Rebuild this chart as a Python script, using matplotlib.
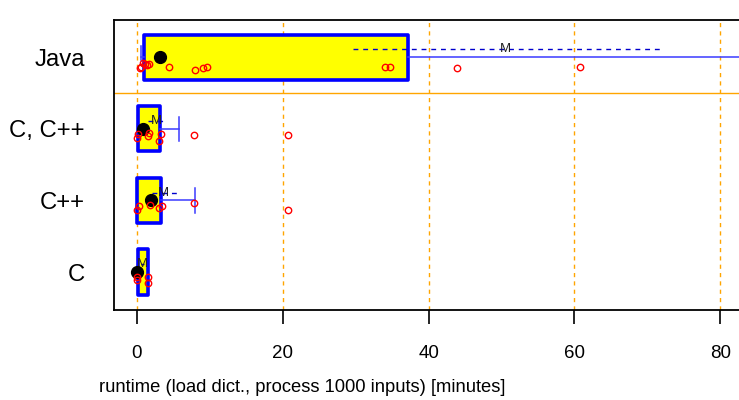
import matplotlib
matplotlib.use("Agg")
import matplotlib.pyplot as plt

plt.rcParams['font.family'] = ['Liberation Sans', 'DejaVu Sans']

# ---- data ----
groups = ["C", "C++", "C, C++", "Java"]          # bottom to top
box_lo = [0.15, 0.05, 0.07, 1.0]
box_hi = [1.55, 3.35, 3.2, 37.2]
medians = [0.0, 1.9, 0.85, 3.2]
whisk_lo = [0.15, 0.05, 0.07, 0.5]
whisk_hi = [1.55, 8.0, 5.8, 95.0]
means = [0.7, 3.6, 2.7, 50.6]
mean_lo = [0.5, 2.0, 1.5, 29.6]
mean_hi = [0.9, 5.5, 4.1, 72.0]

c_pts = [0.0, 0.0, 1.5, 1.5]
cpp_pts = [0.0, 0.25, 1.8, 3.0, 3.4, 7.8, 20.7]
ccpp_pts = [0.0, 0.15, 1.5, 1.65, 3.0, 3.3, 7.8, 20.7]
java_pts = [0.4, 0.55, 0.8, 1.1, 1.4, 1.6, 4.4, 8.0, 9.1, 9.6, 34.0, 34.7, 43.9, 60.8]
points = [c_pts, cpp_pts, ccpp_pts, java_pts]

# vertical jitter of the points (below the row centre)
c_jit = [0.11, 0.07, 0.07, 0.15]
cpp_jit = [0.14, 0.08, 0.07, 0.11, 0.08, 0.04, 0.14]
ccpp_jit = [0.13, 0.07, 0.10, 0.06, 0.17, 0.07, 0.08, 0.08]
java_jit = [0.15, 0.13, 0.08, 0.10, 0.11, 0.10, 0.14, 0.18, 0.15, 0.14, 0.14, 0.13, 0.15, 0.14]
jitters = [c_jit, cpp_jit, ccpp_jit, java_jit]

xticks = [0, 20, 40, 60, 80]
xlabel = "runtime (load dict., process 1000 inputs) [minutes]"

# ---- figure ----
W, H = 739, 400
fig = plt.figure(figsize=(W / 100, H / 100), dpi=100)
left_px, right_px, top_px, bot_px = 114, 760, 20, 310
ax = fig.add_axes([left_px / W, 1 - bot_px / H, (right_px - left_px) / W, (bot_px - top_px) / H])

px_per_unit = 7.29
x0_px = 137
ax.set_xlim((left_px - x0_px) / px_per_unit, (right_px - x0_px) / px_per_unit)
ax.set_ylim(0.47, 4.52)

orange = "#FFA500"
for xt in xticks:
    ax.axvline(xt, color=orange, lw=1.0, ls=(0, (3, 3)), zorder=0.5)
ax.axhline(3.5, color=orange, lw=1.0, zorder=0.5)

half_h = 0.315
cap_h = 0.17
for i, g in enumerate(groups):
    y = i + 1
    ax.add_patch(plt.Rectangle((box_lo[i], y - half_h), box_hi[i] - box_lo[i], 2 * half_h,
                               facecolor="#FFFF00", edgecolor="#0000FF", lw=2.6,
                               joinstyle="round", zorder=2))
    wc = "#3B3BFF"
    if whisk_hi[i] > box_hi[i]:
        ax.plot([box_hi[i], whisk_hi[i]], [y, y], color=wc, lw=1.1, zorder=2.5)
        ax.plot([whisk_hi[i], whisk_hi[i]], [y - cap_h, y + cap_h], color=wc, lw=1.1, zorder=2.5)
    if whisk_lo[i] < box_lo[i]:
        ax.plot([whisk_lo[i], box_lo[i]], [y, y], color=wc, lw=1.1, zorder=2.5)
        ax.plot([whisk_lo[i], whisk_lo[i]], [y - 0.04, y + 0.16], color=wc, lw=1.1, zorder=2.5)
    ym = y + 0.11
    ax.plot([mean_lo[i], mean_hi[i]], [ym, ym], color="#0000CC", lw=1.0,
            ls=(0, (3.5, 3.5)), zorder=3)
    ax.text(means[i], ym, "M", ha="center", va="center", fontsize=9.5, color="#222222", zorder=3.5)
    ax.plot([medians[i]], [y], "o", color="black", ms=8.5, zorder=4)
    ax.plot(points[i], [y - j for j in jitters[i]], "o", mfc="none", mec="#FF0000",
            ms=4.6, mew=1.0, zorder=5)

ax.set_yticks(range(1, len(groups) + 1))
ax.set_yticklabels(groups, fontsize=17.2)
ax.tick_params(axis="y", length=0, pad=21)
ax.set_xticks(xticks)
ax.set_xticklabels([str(t) for t in xticks], fontsize=13.5)
ax.tick_params(axis="x", direction="out", length=10, width=1.2, pad=15.5, color="black")
ax.set_xlabel(xlabel, fontsize=13.2, va="center")
ax.xaxis.set_label_coords((302 - left_px) / (right_px - left_px), (bot_px - 387) / (bot_px - top_px))
for s in ax.spines.values():
    s.set_linewidth(1.3)
    s.set_color("black")

fig.savefig("out.png", dpi=100)
